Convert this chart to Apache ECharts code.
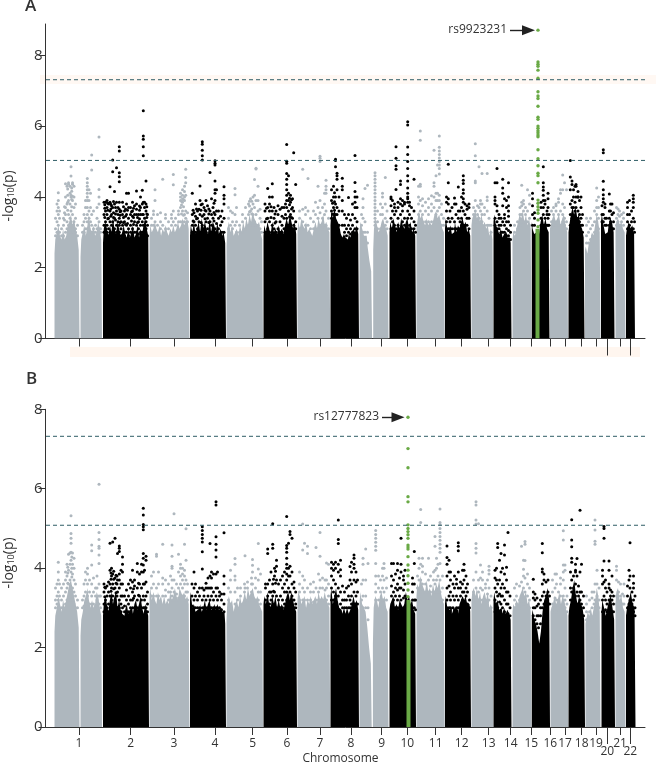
<!DOCTYPE html>
<html><head><meta charset="utf-8">
<style>html,body{margin:0;padding:0;background:#fff}#c{width:656px;height:764px}</style>
<script src="https://cdn.jsdelivr.net/npm/echarts@6/dist/echarts.min.js"></script></head>
<body><div id="c"></div>
<script>
const chromosomes=['1','2','3','4','5','6','7','8','9','10','11','12','13','14','15','16','17','18','19','20','21','22'];
const tickPositions=[33.5,85.2,128.5,169.5,207.2,241.5,274.5,305.5,336.2,361.8,390.2,416.2,443.2,465.2,485.8,504.8,519.5,536.2,550.5,561.8,574.5,584.8];
const chromEnds=[56.9,103.7,144.2,180.7,217.7,251.7,284.9,313.7,343.4,370.7,399.4,425.7,447.9,466.4,486.2,504.2,522.7,539.2,555.2,569.5,580.2,590];
const yTicks=[0,2,4,6,8];
const thresholdsA=[7.31,5.03];
const thresholdsB=[7.32,5.08];

// solid body of each chromosome, column heights: [chrom index, first x, last x, heights...]
const ridgeA=[
[0,9,34,2.4,2.8,3,3.2,2.9,2.8,3.1,2.8,2.9,3.2,3.3,3.5,3.2,3.4,3.1,2.9,2.5],
[0,35,56.5,2.3,2.8,3,3.2,2.9,3.2,3.5,3.1,3,3.2,2.9,3,3.3,3.1,2.8],
[1,57.5,103.5,2.7,3.1,3.3,3.1,2.9,3.2,3,3.4,3.1,2.95,3.3,3.1,2.85,3,3.2,2.95,2.85,3.1,2.85,3,3.2,2.85,2.95,3.2,2.85,3.1,2.95,3.2,3.4,3.1,2.9],
[2,104,144,2.9,3.2,3,3.1,3.3,3.1,3,3.2,2.9,3.1,3,3.2,3,2.9,3.1,3,3.2,3,3.1,3.3,3.1,3.2,3.4,3.2,3.3,3.4,3.1],
[3,144.5,180.5,2.9,3.2,3,3.3,2.95,3.1,3.3,3,3.4,3.1,3.3,3.1,2.95,3.4,3,3.3,3.2,3,3.3,2.95,3.1,2.9,3,2.7],
[4,181,217.5,2.6,3.1,3.3,3,3.2,2.9,3,3.1,2.9,3.2,3,3.3,3.1,3.4,3.2,3.5,3.3,3.6,3.4,3.3,3.2,3.3,3,2.8],
[5,218,251.5,2.9,3.2,3,3.3,3.1,2.95,3.3,3,3.1,2.95,3.2,3,3.1,2.95,3.2,3.4,3.2,3.5,3.3,3.1,3.3,2.95],
[6,252,284.7,3,3.3,3.1,3.4,3.2,3.1,3.3,3,3.1,3,2.9,3.1,3.3,3.1,3.4,3.2,3.3,3.5,3.2,3.3,3.1,3],
[7,285,313.5,3.2,3.6,3.4,3.7,3.4,3.3,3.2,2.95,2.85,2.95,2.85,2.8,2.95,2.85,3,3.1,3,3.2,2.95],
[8,314,326.6,3,3.3,3.1,2.9,2.9,2.6,2.2,1.9],
[8,327.7,343,2.5,3.1,3.4,3.2,3,3.1,3.3,3.4,3.2,3.1,2.9],
[9,344,370.5,3,3.3,3.1,3.4,3.2,3,3.3,3.1,3.4,3.2,3.1,3.3,3.4,3.1,3.3,3,3.1,2.9],
[10,371,399.2,3.1,3.3,3.6,3.4,3.5,3.3,3.2,3.4,3.2,3.3,3.2,3.3,3.5,3.6,3.4,3.5,3.3,3.1,3],
[11,399.5,425.5,3.1,3.4,3.1,3,3.2,2.95,3,3.3,3,3.2,3.1,3.3,3.4,3.2,3.3,3,3.1,2.9],
[12,426,447.7,3.2,3.4,3.5,3.6,3.4,3.5,3.3,3.5,3.2,3.3,3.1,3.2,2.9,3.1,2.8],
[13,448,466,3.3,3.5,3.2,3.1,2.95,3.1,2.85,2.95,3,2.85,2.85,2.7],
[14,467,486,2.8,3,2.9,3.1,3.3,3.5,3.4,3.6,3.3,3.5,3.2,3.4,3.1],
[15,486.3,504,3.3,3.1,2.95,3,3.1,2.95,3.3,3.5,3.2,3.4,3.1,3],
[16,504.5,522.5,3.1,3.2,3.4,3.5,3.3,3.4,3.5,3.2,3.4,3.5,3.2,3],
[17,523,539,3,3.2,3.5,3.7,3.5,3.7,3.4,3.5,3.2,3.1,2.85],
[18,539.5,555,2.5,2.6,2.4,2.7,2.8,3,2.9,3.2,3.5,3.3,3],
[19,555.5,569,3.3,3.5,3.2,2.95,3,3.2,3.4,3.3,3],
[20,570,580,3.1,3.3,3.4,3.2,3.3,3.1,3],
[21,580.5,589.5,2.9,3.1,3.3,3.1,3.2,2.95]
];
const ridgeB=[
[0,9,34,2.4,2.8,3,3.3,3.1,2.9,3.2,3,3.2,3.4,3.6,3.7,3.5,3.3,3.1,2.9,2.5],
[0,35,56.5,2.3,2.7,2.9,3.2,3.3,3.5,3.2,3,3.2,3,3.1,3.4,3.3,3,2.8],
[1,57.5,103.5,2.8,3.1,3.3,3.1,2.9,3.2,3.4,3.1,3.3,3.4,3,3.2,2.95,2.85,2.8,2.95,3.1,2.85,2.95,3,2.85,3.1,3.2,2.95,3.1,3.3,3,2.85,3.1,2.95,2.8],
[2,104,144,3.3,3.5,3.2,3.4,3.2,3.1,3.4,3.2,3.3,3.1,3.3,3.1,3.2,3.1,3.4,3.2,3.3,3.5,3.3,3.2,3.5,3.4,3.3,3.4,3.2,3.3,3.1],
[3,144.5,180.5,3.2,3.4,3,3.1,2.9,2.95,3,3.1,2.9,3,3.2,2.95,3.1,3.2,2.95,3,3.1,2.95,3.1,2.95,3,2.9,2.9,2.6],
[4,181,217.5,2.7,3.1,3.3,3.1,3.2,2.9,3.1,3.2,3,3.3,3.1,3.2,3.4,3.2,3.5,3.3,3.4,3.5,3.3,3.2,3.3,3.1,3,2.9],
[5,218,251.5,3.1,3.3,3.1,3.4,3.1,3,3.3,3.1,3.3,3,3.2,3,3.1,2.95,3.1,3.3,3.4,3.2,3.4,3.2,3,2.9],
[6,252,284.7,3.2,3.4,3.3,3.1,3.2,3.3,3,3.2,3.1,3.3,3.1,3.2,3.3,3.1,3.4,3.2,3.3,3.2,3.4,3.2,3.1,3],
[7,285,313.5,3.3,3.5,3.1,3.3,3.5,3.2,3,2.95,2.85,3,2.85,3,2.85,2.95,3.1,3.3,3.1,3.2,2.95],
[8,314,326.2,3.1,3.4,3.1,3,2.9,2.5,2,1.6],
[8,327.4,343,2.1,3,3.3,3.2,3,3.3,3.4,3.2,3.3,3,2.9],
[9,344,370.5,2.95,3.1,3.2,3.3,3,3.1,2.95,3.2,3.1,3,3.1,3.4,3.2,3.3,3.1,3.2,2.95,2.85],
[10,371,399.2,3.3,3.6,3.5,3.8,3.6,3.5,3.4,3.7,3.4,3.5,3.3,3.6,3.4,3.6,3.5,3.7,3.4,3.2,3.1],
[11,399.5,425.5,3.1,3.3,3,2.95,3,2.85,2.95,3,2.95,2.85,3.1,3.2,3.3,3.2,3.3,3.1,3.1,2.9],
[12,426,447.7,3.2,3.4,3.5,3.3,3.5,3.2,3.4,3.1,3.3,3.4,3.2,3.4,3,3.1,2.9],
[13,448,466,3.2,3.4,3.1,3.2,2.95,3,2.85,3,2.85,2.95,2.85,2.7],
[14,467,486,2.9,3.1,3,3.2,3.1,3.3,3.4,3.5,3.3,3.4,3.1,3.2,2.9],
[15,486.3,504.5,2.8,2.95,2.7,2.6,2.4,2.1,2.4,2.9,3.2,3.3,3.5,3.2],
[16,505,522.7,2.9,3,3.1,3.3,3.1,3.2,3.4,3.1,3.3,3.2,3,2.8],
[17,523,539.5,2.8,3,3.2,3.5,3.7,3.3,3.1,3.3,3.1,3,2.7],
[18,540,555,2.6,2.7,2.9,2.8,3,2.8,3,3.2,3.5,3.3,2.9],
[19,556,569.5,2.9,3.2,3,2.8,3,3.2,3.3,3,2.7],
[20,570,580,3.1,3.4,3.5,3.2,3.3,3,2.9],
[21,580.5,590,2.8,3,3.2,3.4,3.1,3]
];
const greenBarA=[[490,3.1],[494,3.1]];
const greenBarB=[[361,3.2],[365,3.2]];
const greenXA=492.5, greenXB=362.5;
const greenA=[8.71,7.81,7.75,7.69,7.58,7.35,6.97,6.85,6.78,6.56,6.25,6.19,6,5.94,5.87,5.81,5.75,5.7,5.33,5.08,4.88,4.67,4.6,4.4,3.91,3.82,3.72,3.63,3.54,3.35,3.16];
const greenB=[7.8,7.01,6.53,5.8,5.67,5.09,5,4.92,4.84,4.75,4.58,4.53,4.48,4.29,4.08,3.95,3.81,3.62,3.45,3.28];

// columns of separate points: [x, y, y, ...]
const cloudA=[
[10,2.9,3.1,3.4],[11.5,3,3.3,3.6,3.8],[12.8,3.2,3.5,3.7,3.9,4.12],[14,3,3.4,3.6],[16,2.9,3.1],[18,2.9,3.2,3.4],[19,3.35,3.55,3.72],[20,3,3.5,3.7,4,4.37],[21.5,3.1,3.3,3.8,4.3],[22.2,3.62,3.85,4.05,4.22],[23,3.2,3.5,3.9,4.36,4.4],[24.5,3.1,3.4,3.8,4.1,4.3],[25.5,3,3.3,3.6,4,4.05,4.59,4.85],[26.2,3.72,3.93,4.16,4.25],[27,3,3.2,3.5,3.9,4.02,4.36,4.4],[28.5,3,3.3,3.7,4,4.3],[30,3,3.1,3.4,3.8],[32,2.9,3.2],[37,3,3.2],[38.5,3,3.3,3.5],[40,3.1,3.4,3.7,3.9],[41.8,3.1,3.3,3.5,3.7,3.9,4,4.1,4.2,4.3,4.4,4.52],[43.5,3.1,3.4,3.6,3.9,4.2],[45,3,3.3,3.7,4.1],[46.2,3,3.2,3.5,4.76,5.18],[48,3,3.1,3.6],[50,3,3.2],[51.5,3.1,3.4,3.7],[53.5,3.1,3.3,3.8,4,4.21,5.69],[55,3,3.1],
[58.5,3,3.2,3.5,3.85],[59.3,3.42,3.68,3.78],[60,2.9,3.1,3.3,3.6,3.85],[61.5,3,3.2,3.5,3.7,3.9],[62.3,3.38,3.62,3.82],[63,2.9,3.1,3.4,3.8],[64.5,3,3.3,3.6,3.85,4.29],[65.3,3.45,3.66,3.79],[66,2.9,3.2,3.5,3.75],[67.2,3,3.3,3.7,4.71,5.04],[68,3.42,3.55,3.87],[69,2.9,3.1,3.4,3.8,4.15],[70,3.35,3.52,3.7],[71,3,3.2,3.6,3.85,4.82],[72.5,2.9,3.3,3.5,3.7],[73.8,3,3.2,3.4,3.65,3.85,4.43,4.57,4.68,5.3,5.42],[74.6,3.28,3.48,3.58],[75.5,2.9,3.1,3.3,3.6],[77,2.9,3.2,3.5,3.85],[78,3.28,3.42,3.72],[79,2.9,3,3.3,3.6],[80,3.22,3.45,3.66],[81,3,3.2,3.5,3.8,4.1],[82,3.25,3.62],[83,2.9,3.1,3.4,3.7,4.1],[85,3,3.2,3.5,3.7],[86,3.32,3.58],[87,2.9,3.1,3.45,3.6,3.85],[88,3.22,3.42,3.68],[89,3,3.3,3.5,3.75],[91,3,3.2,3.5,3.65,3.8,4.17],[92,3.28,3.42],[93,2.95,3.1,3.3,3.5],[94,3.38,3.62,3.74],[95,3,3.2,3.5,3.7,4],[96.8,3,3.3,3.5,3.8,4.19],[97.8,3,3.2,3.5,3.85,5.16,5.42,5.63,5.72,6.43],[99,3,3.1,3.4,3.7,3.85],[100.5,3.1,3.3,3.6,3.8,4.45],[101.3,3.42,3.52,3.72],[102,2.9,3.2,3.5],
[106,3.2,3.4],[108,3.2,3.5,3.6],[109.5,3.3,3.9,4.2],[112,3.2,3.5],[115,3.1,3.3,3.55],[117.2,3.2,4.5],[120,3.1,3.4,3.5],[123,3.1,3.3],[126,3.2,3.4,3.5],[127.8,3.3,3.6,4.34,4.63],[130,3.2,3.4],[133,3.3,3.5,3.6],[135,3.3,3.7,3.9,4,4.1],[136,3.52,3.77,3.88],[137,3.3,3.6,3.85,3.95,4.05,4.2],[138,3.48,3.72,3.92],[139,3.3,3.5,3.9,4,4.15,4.3],[140.2,3.4,3.6,4.05,4.4,4.55,4.78],[142,3.3,3.55],
[146.8,3,3.2,3.5,4.1],[147.6,3.32,3.62],[148.5,3,3.3,3.55],[150,3,3.2,3.45,3.8],[151,3.38,3.66],[152,3.1,3.4,3.6],[153.5,3,3.3,3.65],[154.5,3,3.5,3.9,4.31],[155.5,3.28,3.62,3.78],[156.8,3,3.2,3.45,3.8,5.04,5.16,5.32,5.49,5.56],[158.5,3.1,3.5,3.7],[159.5,3.38,3.62],[160.5,3,3.3,3.6,3.9],[162,3.1,3.4,3.75],[163.3,3.28,3.52,3.66],[164.5,3,3.3,3.6,4.69],[166,3,3.2,3.5,3.95],[167.5,3,3.4,3.7],[168.5,3.32,3.56,3.82],[169.5,3.1,3.5,3.9,4.1,4.2,4.45,4.9,4.95,5.02],[171,3,3.25,3.6,4.2],[173,3.1,3.4,3.6],[175,2.95,3.2,3.45],[176.5,3,3.3,3.6],[178.5,3,3.4,3.8,3.95,4.05,4.29],
[183,3.1,3.4,3.7],[185,3.2,3.6],[187,3.1,3.3,3.55],[189.5,3.2,3.5,4.06,4.24],[191,3,3.3,3.7],[194,3,3.2],[197,3,3.3,3.5],[200,3.1,3.4,3.7],[203,3.2,3.5,3.8],[204,3.58,3.74,3.88],[205,3.2,3.6,3.95],[206.2,3.52,3.66,3.88],[207.5,3.2,3.5,3.8,4],[209,3.3,3.7,4.05,4.49],[210.5,3.2,3.5,3.9,4.79,4.81],[212.5,3.2,3.6,3.9,4.3],[214.5,3.1,3.4,3.65],[216,3,3.3],
[219.5,3,3.3,3.6,3.8],[221,3.38,3.68],[222.2,3.1,3.4,3.7,4.24],[224,3,3.3,3.6,3.8,4],[225.5,3.42,3.72],[226.8,3,3.2,3.6,4,4.37],[228.5,3.1,3.4,3.7],[229.5,3.26,3.52],[230.5,3,3.3,3.6],[232.5,3.1,3.5,3.75],[234.5,3,3.3,3.65],[236.5,3,3.2,3.45,3.7],[238.5,3.1,3.4,3.7],[240,3.1,3.5,3.8],[241.2,3.2,3.4,3.7,3.9,4.05,4.2,4.35,4.5,4.66,4.95,5.01,5.48],[243,3.2,3.6,3.9,4.1,4.6],[244,3.44,3.78,3.96],[245,3.2,3.5,3.85,4.05],[246,3.42,3.66,3.92],[247,3.1,3.4,3.7,3.95],[248.2,3.2,3.6,5.25],[250.2,3.1,3.3,4.35],
[254,3.1,3.4,3.6],[257.2,3.1,3.3,3.65,4.78],[260,3.2,3.5,3.7],[262.5,3.2,3.6,4.52],[265,3.1,3.4],[268,3.1,3.3,3.6],[270,3.1,3.5,3.85],[272.5,3.1,3.4,3.7,4.3],[274.5,3.2,3.55,3.9,5,5.09,5.15],[277,3.1,3.4,3.7],[279,3.2,3.5,3.8,4.1],[280.5,3.2,3.6,4.1,4.2,4.3,4.47],[283,3.1,3.4],
[286,3.4,3.6,3.9,4.2],[287,3.52,3.82],[288,3.5,3.7,4,4.3],[289,3.62,3.86,4.12],[290,3.5,3.8,4,4.85,5.03,5.06],[291.5,3.5,3.7,4.2,4.5,4.6,4.67],[293.5,3.2,3.6,4],[296.8,3.2,3.6,3.9,4.2,4.3,4.53],[299,3,3.2,3.5],[301,2.9,3.1,3.4],[303,3,3.2,3.5,3.98],[305,2.95,3.1,3.35],[307,3,3.2,3.5,3.8],[309.5,3.1,3.4,3.7,3.85,4,4.15,4.41,5.17],[311.5,3.1,3.3,3.7,4],
[316,3,3.2,3.5],[317.5,3,3.4,3.7,3.95],[319.5,3,3.3,4.24],[322,2.7,3,4.33],[329.5,3.2,3.3,3.4,3.5,3.6,3.7,3.8,3.9,4,4.1,4.2,4.3,4.4,4.5,4.6,4.68],[332,3.1,3.3,3.6],[335,3.1,3.5,3.8],[337,3.2,3.5,3.7,4,4.1],[339.8,3.2,3.4,3.8,4.55],[341.5,3.1,3.3,3.6],
[345.5,3.1,3.4,3.75,3.95,4],[347,3.1,3.3,3.6,3.9],[349,3.2,3.5,3.7,3.8],[350.5,3.1,3.6,4.21,4.78,4.88,5.09,5.42],[352.5,3.2,3.4,3.7,3.85],[355,3.1,3.5,3.8,3.95,4.35,4.45],[357,3.1,3.3,3.6,3.75,3.9],[359,3.2,3.4,3.8,3.85],[362.2,3.1,3.4,3.6,3.85,3.95,4,4.1,4.25,4.45,4.6,4.8,5,5.2,5.41,6.03,6.12],[364,3.2,3.5,3.75,3.85],[366,3.1,3.4,3.7],[368.5,3.1,3.3,3.6,4.5],[370,3,3.2],
[373,3.2,3.5,3.8,4,4.3],[374.8,3.3,3.6,3.9,4.3,4.36,5.6,5.86],[377,3.3,3.5,3.75,3.95],[380,3.3,3.6,3.85],[383,3.3,3.5,3.7,3.95],[386,3.3,3.6,3.8,4.03],[388.5,3.3,3.7,4,4.3,4.4,5.32],[390.5,3.3,3.5,3.9,4.1,4.6],[392,3.3,3.6,3.9,4.1,4.9],[393.8,3.3,3.7,3.9,4.05,4.65,4.8,4.9,5,5.1,5.2,5.3,5.4,5.72],[396,3.2,3.5,3.8],[398,3.2,3.4],
[401,3.1,3.3,3.6,3.85,4],[402.8,3.1,3.4,3.8,3.95,4.4,4.92],[404.5,3.1,3.3,3.6],[406.5,3.1,3.4,3.7],[409,3.1,3.3,3.8,3.97],[410.5,3.1,3.5,3.8],[412.8,3.1,3.4,3.6,4.28],[414.5,3.1,3.3,3.6],[416,3.2,3.4,3.7,4],[417.8,3.2,3.6,3.85,3.95,4.1,4.2,4.38,4.47,4.6],[419.5,3.2,3.5,3.8],[421.5,3.2,3.4,3.65,3.75],[423.5,3.1,3.4,3.7,3.8],
[428,3.3,3.5,3.7],[429.8,3.3,3.6,3.9,4.4,4.45,5.16,5.5],[432,3.3,3.5,3.75],[433.5,3.4,3.7,4.85],[435,3.3,3.6,3.8,3.9],[436.5,3.3,3.5,3.8,4.66],[439,3.2,3.5,3.7],[441.7,3.2,3.6,3.9,4,4.66],[443.5,3.2,3.4],[445.5,3,3.2],
[449.5,3.2,3.4,3.8,3.9,4,4.4],[451.5,3.1,3.3,3.6,3.75,4.4,4.8],[453.5,3.1,3.2,3.4,3.5],[455.5,3,3.2,3.4],[457.2,3,3.3,3.75,4.1,4.25,4.5],[459,3,3.2,3.4,3.5,3.95],[461,2.9,3.1,3.3,3.7,3.9],[463,2.9,3.05,3.3,3.45,3.6,3.75,4.0,4.4],[465,2.8,3,3.2],
[469,3,3.2],[472,3.1,3.3],[474.5,3.2,3.5,3.7],[476.2,3.3,3.5,3.75,3.85,4.33],[478,3.3,3.6,3.8,3.9],[480,3.3,3.5,3.7],[482,3.3,3.6,4.2],[484,3.2,3.4,3.8,4.05],
[487,3.2,3.5,3.75,3.95,4.1],[489,3.2,3.4,3.55],[495.5,3.2,3.4,3.7,3.85],[497.8,3.2,3.5,3.7,3.9,4.05,4.19,4.28,4.4,4.85],[499.5,3.2,3.4,3.8,3.9],[501.5,3.2,3.5,3.6],[502.5,3.2,3.4,3.7,3.95,4.1],[503.5,3.2,3.5],
[506,3.1,3.3,3.6],[508,3.2,3.5,3.7],[510.5,3.2,3.3,3.6,3.75,3.8],[513,3.2,3.5,3.85,3.95],[515,3.2,3.6,4.1,4.2],[517.2,3.3,3.5,3.8,4.2,4.62],[519,3.2,3.4,3.7,4.4],[521,3.1,3.3,4.2],
[524.8,3.2,3.5,3.8,4.2,4.56,5.03],[526.5,3.2,3.4,3.7,3.9,4.35,4.45],[528,3.3,3.7,4,4.2],[529.5,3.4,3.6,3.85,4.3],[530.5,3.4,3.7,4,4.35,4.3],[532.5,3.4,3.6,4,4.15,4],[534,3.3,3.5,3.9],[535.5,3.2,3.4,3.7,4],[537,3,3.2,3.5],
[541,2.7,2.9,3.2,3.4],[543,2.7,3,3.3],[545,2.8,3.1,3.4],[547,2.9,3.2],[549,3,3.3,3.6],[551.2,3,3.3,3.5,3.7,3.9,4.25],[553,3.1,3.4,3.7,4],
[556.5,3.3,3.5,3.75],[557.8,3.3,3.5,3.85,3.95,4.06,4.2,4.44,5.25,5.33],[559.5,3.2,3.4,3.7,3.8],[561,3.2,3.4],[563.8,3.2,3.4,3.6,4.08],[565,3.2,3.3,3.6,3.8],[566.5,3.1,3.5,3.8],[568,3.1,3.3,3.55],
[571,3.2,3.4,3.7],[572.5,3.3,3.5,3.66],[574,3.2,3.45,3.6],[576,3.3,3.5],[578,3.2,3.4,3.55],
[582,3.1,3.3,3.5,3.85,3.7],[584,3.2,3.5,3.9],[586,3.1,3.3,3.6],[587.8,3.1,3.4,3.7,3.85,3.95,4.05],[589,3,3.3]
];
const cloudB=[
[10,3,3.2,3.5],[11.5,3.1,3.3,3.6],[12.8,3.2,3.4,3.7,3.9,4.15],[14,3,3.3,3.6],[16,3,3.2,3.5],[18,3,3.3,3.6],[20,3.1,3.4,3.7,3.9],[21.5,3.2,3.5,3.8,4.1],[22.3,3.62,3.88,4.02],[23,3.2,3.6,3.95,4.35],[24.5,3.3,3.7,4.1,4.38],[25.5,3.2,3.5,3.9,4.2,4.4,4.63,4.75,4.87,5.32],[26.3,3.78,4,4.28],[27,3.2,3.5,3.85,4.1,4.38],[28.5,3.1,3.4,3.7,4,4.25],[30,3,3.3,3.6],[32,3,3.2],[37,3,3.2],[38.5,3.05,3.3,3.6],[40,3.1,3.4,3.7,3.9],[42,3.1,3.3,3.6,3.85,4],[44,3.1,3.4,3.7],[46.2,3.1,3.3,3.6,4.08,4.44,4.58],[48,3.1,3.4,3.75],[50,3.05,3.3,3.5],[51.5,3.2,3.5,3.8],[53.5,3.1,3.3,3.6,4.12,4.33,4.5,4.55,4.72,4.9,6.11],[55,3,3.3],
[58.5,2.9,3.1,3.4,3.6],[59.3,3.28,3.52],[60,2.9,3.2,3.5],[61.5,3,3.3,3.55],[63,2.9,3.1,3.4,3.65],[64.5,3,3.3,3.6,3.95,4.63],[65.5,3.42,3.72,3.88],[66,2.95,3.2,3.5,3.8,4],[67.2,3,3.3,3.6,3.85,4.66],[68.2,3.48,3.72,3.92],[69.5,3,3.2,3.5,3.75,4.75],[70.5,3.38,3.62,3.82],[71.5,3,3.3,3.6,3.8],[73.8,3,3.2,3.5,3.7,3.85,4.42,4.5,4.56],[72,3,3.4,3.7,4.37],[75.5,2.9,3.1,3.3,3.6,3.95],[77,3,3.3,3.6,4.1,4.28,3.9],[79,2.9,3.05,3.3],[81,2.9,3.2,3.45],[83,2.9,3.1,3.3,3.6],[85,3,3.2,3.5,3.7],[87,3,3.2,3.4,3.65,3.95],[88,3.24,3.48],[89,3,3.3,3.55,3.7],[91.8,3,3.2,3.5,3.9,4.12],[93,3.32,3.62],[94,3,3.3,3.6,3.85],[96,3,3.2,3.5,3.9,4.1],[97.8,3,3.3,3.6,3.9,4.08,4.25,4.37,4.97,5.04,5.1,5.34,5.51],[99,3,3.2,3.6,3.95],[100.5,3,3.3,3.65,4.2,4.3],[102,2.9,3.1,3.4],
[106,3.3,3.5,3.8],[108,3.3,3.6,3.9],[111,3.3,3.5,4.3,4.35],[113,3.3,3.6,3.9],[117.2,3.3,3.6,3.75,4.6],[120,3.3,3.45,3.7],[123,3.2,3.4,3.6],[125,3.2,3.4,3.8],[126.5,3.3,3.5,3.7,4,4.05,4.3,4.58],[128.5,3.2,3.4,3.7,5.37],[131,3.2,3.35,3.6],[133,3.25,3.5,3.9,4.35],[135,3.3,3.6,3.8,4.1,4],[137,3.3,3.5,3.7,3.85,4],[139,3.3,3.6,3.8,3.95,4.6],[140.5,3.2,3.4,3.7,4.2,4.99],[142,3.2,3.4,3.6],
[146.5,3.05,3.3,3.6],[148.5,3,3.2,3.5,3.9],[150,3,3.3,3.6],[152,3,3.2,3.4],[154,3,3.3,3.5],[156.8,3,3.2,3.5,3.98,4.41,4.66,4.75,4.85,4.95,5.04],[158.5,3,3.3,3.45],[160.5,3,3.2,3.5,3.62],[162.5,3,3.3,3.5,3.75],[164.5,3,3.2,3.5,3.8,4.62],[166,3,3.3,3.5,3.75,3.9],[168,3,3.2,3.4,3.85],[170.5,3,3.3,3.5,3.85,4.28,4.46,4.6,4.79,5.59,5.67],[172,3,3.2,3.5,3.9],[174,3,3.3,3.4],[176,2.95,3.2,3.35],[178.5,2.9,3.1,3.35,3.6,3.8,4.89],
[183,3,3.2,3.5],[185,3.1,3.4,3.7,3.95],[189.5,3.1,3.4,3.7,3.8,4.1,4.24],[192,3,3.2,3.5],[195,3.1,3.3,3.5],[199,3.1,3.4,3.6],[202,3.2,3.5,3.65],[199.5,3.2,3.5,4.31],[206,3.2,3.4,3.6,3.75],[207,3.3,3.6,3.9,4.07,4.22],[210,3.2,3.5,3.75],[212.8,3.2,3.4,3.7,3.98,4.62],[215,3.1,3.4,3.85],
[220,3,3.2,3.5,3.6],[222.2,3,3.3,3.6,4.37,4.48],[224,3.1,3.4,3.7],[225.5,3,3.2,3.4,3.9],[227.2,3,3.3,3.6,4.5,4.6,5.12],[228,3.42,3.72],[229,3.1,3.4,3.8,4],[230,3.62,3.92],[231,3,3.3,3.7,4.05,4.2],[233,3,3.2,3.6],[235,3,3.3,3.7],[237,3,3.2,3.5,3.8],[239,3.1,3.4,3.6,3.9],[241.2,3.2,3.4,3.7,3.85,4,4.1,4.25,4.4,4.5,4.57,5.3],[243,3.1,3.5,3.8,4,4.63],[244.5,3.1,3.4,3.8,4.05,4.85,4.92],[246.5,3.1,3.3,3.6,3.9,4.75],[248.5,3,3.2,3.5,3.65],[250.2,3,3.1,3.4],
[254,3.2,3.4,3.6,3.9],[257.2,3.2,3.5,3.8,4.46,5.11],[259,3.2,3.4,3.7,4.63],[262,3.2,3.5,4.37,4.55],[265,3.2,3.4,3.6],[268,3.15,3.4,3.65],[270.5,3.2,3.5,4.52],[273,3.2,3.4,3.85],[274.5,3.2,3.5,3.7,4.3,4.9],[277,3.2,3.5,3.75],[279.5,3.2,3.45,3.7],[281,3.2,3.5,3.7,4.13],[283,3.1,3.3,3.6,4.1],
[286,3.2,3.5,3.8,4,4.15],[288,3.2,3.4,3.7,3.95,4.1],[290,3.3,3.6,4,4.15],[292.8,3.3,3.5,3.9,4.1,4.62,4.72,5.21],[295,3.1,3.4,3.8,4.2,3.96],[297,3,3.2,3.55],[299,3,3.2,3.4],[301,3,3.2,3.5],[303,3,3.3,3.55],[304.5,3,3.2,3.7,4.04],[306,3.1,3.3,3.6,3.9,4.15],[308.5,3.1,3.4,3.7,4,4.1,4.25,4.33],[310.5,3.1,3.3,3.65,3.9],[312,3.1,3.4,3.7],
[316,3,3.2,3.6],[317.5,3,3.3,3.7,4.25,4.1],[320.2,3,3.3,3.7,4.48],[322.5,2.7,3,4.12],[330.2,3.2,3.4,3.6,3.8,4.12,4.45,4.55,4.65,4.75,4.85,4.95],[333,3.2,3.5,3.8],[335,3.2,3.4,3.7],[337,3.2,3.5,3.8,4],[338.5,3.2,3.4,3.7,4.12,4],[341,3.2,3.5,3.75],
[346,3,3.3,3.55,3.8,4.12],[348,3,3.2,3.4,3.7,4.12],[350,3,3.3,3.5,3.85],[352,3,3.2,3.45,3.6,3.95,4.12],[354,3,3.3,3.5,3.75],[355.5,3,3.2,3.5,3.9,4.1,4.75],[358,3,3.25,3.45,3.7,3.8],[359.5,3,3.3,3.6,3.95],[367,3,3.2,3.4,3.6,3.75],[368.8,3,3.2,3.6,4.12,4.42],[370,2.95,3.2],
[372,3.2,3.5,3.8],[373.5,3.3,3.7,4,4.25],[375.2,3.4,3.7,4.1,5.15,5.48],[377,3.4,3.6,3.9,4.05,4.25],[380,3.4,3.6,3.85],[383,3.4,3.7,4.25],[385,3.4,3.55,3.8],[388,3.4,3.7,3.9],[389.5,3.4,3.6,3.95,4.8,4.55],[391,3.4,3.7,4,4.25],[392.5,3.4,3.8,4.1],[394.5,3.4,3.7,4.12,4.4,4.5,4.6,4.7,4.8,4.9,5,5.1,5.15,5.49],[397,3.2,3.5,3.8],
[401.5,3,3.2,3.5,3.8,4.1,4.27,4.56],[403.5,3,3.3,3.55,3.9,4.2],[405,3,3.2,3.4,3.7,3.9],[407.5,3,3.3,3.6],[409,2.95,3.2,3.5,3.8],[411,3,3.3,3.6,3.72],[412.8,3,3.2,3.5,3.9,4.44,4.55,4.64],[415,3,3.3,3.5,3.65],[417,3,3.2,3.4,3.6,3.95],[418.5,3.1,3.4,3.7,3.95,4.1],[420.5,3.1,3.3,3.5,3.8],[422,3.1,3.4,3.6],[424,3,3.2],
[428,3.2,3.4,3.7],[430.5,3.2,3.5,3.9,4.38,4.5,4.62,5.11,5.21,5.59,5.67],[433,3.2,3.4,3.7,5.12],[435,3.2,3.5,3.75,4.08],[437,3.2,3.45,3.7,3.9],[440,3.2,3.5,3.6],[442,3.15,3.35,3.7],[443.5,3.2,3.5,3.85,3.95,4.05],[445.5,3,3.3],
[449.5,2.9,3.2,3.5,3.75,3.95],[451,2.9,3.1,3.4,3.7,4],[452.2,3,3.3,3.6,4.52,4.62],[454,2.9,3.15,3.35,3.7,4.2],[455.5,2.85,3.1,3.3,3.5,3.9,4.37],[457,2.8,3,3.3,3.6,4],[459,2.9,3.2,3.5,3.85,4.33,4.58],[461,2.8,3.1,3.4,3.7,4.02],[462.5,2.85,3.1,3.4,4.9],[464.5,2.8,3,3.3],
[469,3,3.2,3.5],[471,3.1,3.3,3.6],[474,3,3.2,3.55],[476,3.1,3.3,3.65,4.55],[478,3.1,3.5,3.8,3.97,4.2],[479.5,3.1,3.4,3.75,4.19,4.6,4.67],[482,3.05,3.3,3.6,3.85],[484,3,3.2,3.5],
[487.8,2.8,3,3.25,3.4,3.72],[489.5,2.7,3,3.2,3.35],[491.5,2.6,2.8,3.05,3.25],[493,2.5,2.8,3.1],[495,2.6,2.8,3,3.2],[496.8,3,3.3,3.6,3.9,3.98,4.39,4.62],[498.5,3.1,3.4,3.7,3.85],[500.5,3.1,3.3,3.65],[502.5,3.1,3.4,3.7],[504,3.1,3.3],
[507,2.9,3.1,3.4,3.7],[509.5,3,3.25,3.5,3.85],[511,2.9,3.2,3.6,3.85],[513,3,3.2,3.4],[515,3.05,3.3,3.6,3.75],[517.8,3,3.3,3.7,3.9,4.08,4.71,4.94],[519.5,3,3.2,3.5,3.95,4.08],[521.5,2.9,3.1,3.3],
[525,2.9,3.2,3.5,3.9],[526.2,3,3.4,3.7,4.15,4.25,4.54,4.71,5.22],[528,3,3.3,3.5,3.8],[530,3.3,3.6,3.9,3.95,4.1],[531.5,3.1,3.4,3.8,4.24],[533,3,3.3,3.55],[534.5,2.9,3.2,3.4,3.9,5.46],[536,2.9,3.1,3.4,4.1],[538,2.8,3,3.3],
[541,2.7,2.9,3.1,3.3],[544,2.7,2.9,3.2],[546.5,2.7,3,3.25,3.4],[548.5,2.8,3.1,3.4],[549.5,3,3.2,3.6,4.6,4.68,4.96,5.21],[551.5,3,3.3,3.6,3.95],[553.5,3,3.2,3.5],
[557,2.9,3.2,3.6,3.8,3.95],[558.5,2.9,3.3,3.65,4.18,4.75,5,5.05],[560,2.95,3.2,3.5,3.7],[561.5,2.9,3.1,3.4],[563.5,2.95,3.2,3.5,3.6,3.95,4.18],[565,3,3.3,3.45],[566.5,2.9,3.2,3.4,3.8],[568,2.9,3.1,3.3],
[571,3.1,3.3,3.7,4.05,3.95],[573,3.1,3.4,3.65],[575,3.1,3.3,3.6],[577,3.1,3.35],[578.5,3.1,3.3,3.6],
[582,2.8,3,3.3,3.55],[583.5,2.9,3.1,3.7,3.95],[584.5,2.9,3.2,3.5,3.8,4.64],[586.5,2.8,3.1,3.4],[588,2.9,3.2,3.5,3.62,3.8],[589.5,2.8,3,3.3]
];

const GRAY='#aeb7be',BLACK='#000000',GREEN='#6aaa46',DASH='#2f5d66',INK='#333333';
const colorOf=i=>i%2===1?BLACK:GRAY;
const chromOf=x=>{for(let i=0;i<chromEnds.length;i++)if(x<=chromEnds[i])return i;return 21;};

function panelSeries(ax,ridge,cloud,greenBar,greenX,green,thresholds,arrow){
  const s=[];
  const area=(pts,color,step)=>({type:'line',step:step?'middle':false,xAxisIndex:ax,yAxisIndex:ax,silent:true,symbol:'none',sampling:null,z:2,
    lineStyle:{width:0},itemStyle:{color},areaStyle:{color,opacity:1},
    data:[[pts[0][0],0],...pts,[pts[pts.length-1][0],0]]});
  ridge.forEach(r=>{
    const h=r.slice(3),x0=r[1],x1=r[2];
    s.push(area(h.map((v,i)=>[x0+(x1-x0)*i/(h.length-1),v]),colorOf(r[0]),true));
  });
  const pts=[[],[]];
  cloud.forEach(c=>{const k=chromOf(c[0])%2;c.slice(1).forEach(y=>pts[k].push([c[0],y]));});
  s.push({type:'scatter',xAxisIndex:ax,yAxisIndex:ax,silent:true,symbol:'circle',symbolSize:3,z:3,itemStyle:{color:GRAY,opacity:1},data:pts[0]});
  s.push({type:'scatter',xAxisIndex:ax,yAxisIndex:ax,silent:true,symbol:'circle',symbolSize:3,z:3,itemStyle:{color:BLACK,opacity:1},data:pts[1]});
  s.push(Object.assign(area(greenBar,GREEN,false),{z:4}));
  s.push({type:'scatter',xAxisIndex:ax,yAxisIndex:ax,silent:true,symbol:'circle',symbolSize:3.4,z:5,itemStyle:{color:GREEN,opacity:1},data:green.map(y=>[greenX,y])});
  thresholds.forEach(t=>s.push({type:'line',xAxisIndex:ax,yAxisIndex:ax,silent:true,symbol:'none',z:6,
    lineStyle:{color:DASH,width:1,type:[4,3]},data:[[0.5,t],[599.5,t]]}));
  s.push({type:'line',xAxisIndex:ax,yAxisIndex:ax,silent:true,symbol:'none',z:6,data:[],
    markLine:{silent:true,animation:false,symbol:['none','triangle'],symbolSize:[10,13],label:{show:false},
      lineStyle:{color:'#222',width:1.4,type:'solid'},
      data:[[{coord:[arrow[0],arrow[2]]},{coord:[arrow[1],arrow[2]]}]]}});
  return s;
}
const xA=idx=>({type:'value',gridIndex:idx,position:'bottom',min:0,max:599.5,splitLine:{show:false},
  axisLine:{show:true,onZero:false,lineStyle:{color:INK,width:1}}});
function xAxes(idx,labels){
  const short=tickPositions.filter((p,i)=>i!==19&&i!==21);
  const long=[tickPositions[19],tickPositions[21]];
  const lab=v=>chromosomes[tickPositions.indexOf(v)];
  return [
   Object.assign(xA(idx),{axisTick:{show:true,length:8,customValues:short,lineStyle:{color:INK}},
     axisLabel:{show:labels,customValues:short,margin:11,hideOverlap:false,formatter:lab,color:INK,fontFamily:'Open Sans',fontSize:12}}),
   Object.assign(xA(idx),{axisLine:{show:false},axisTick:{show:true,length:17,customValues:long,lineStyle:{color:INK}},
     axisLabel:{show:labels,customValues:long,margin:19,hideOverlap:false,formatter:lab,color:INK,fontFamily:'Open Sans',fontSize:12}})
  ];
}
const yA=(idx,max)=>({type:'value',gridIndex:idx,min:0,max,splitLine:{show:false},
  axisLine:{show:true,onZero:false,lineStyle:{color:INK,width:1}},
  axisTick:{show:true,length:7,customValues:yTicks,lineStyle:{color:INK}},
  axisLabel:{margin:3,customValues:yTicks,color:INK,fontFamily:'Open Sans',fontSize:15}});
const yName=(y)=>({type:'text',x:9,y,rotation:Math.PI/2,z:10,style:{text:'-log{s|10}(p)',align:'center',verticalAlign:'middle',
  fill:INK,font:'14px "Open Sans"',rich:{s:{fontSize:9,fontFamily:'Open Sans',fill:INK,verticalAlign:'bottom',padding:[5,0,0,0]}}}});
const txt=(x,y,text,size,weight,align)=>({type:'text',x,y,z:10,style:{text,fill:INK,align:align||'left',verticalAlign:'middle',font:`${weight||400} ${size}px "Open Sans"`}});

const chart=echarts.init(document.getElementById('c'),null,{renderer:'canvas'});
chart.setOption({
  animation:false,backgroundColor:'#fff',
  grid:[{left:45.5,top:24,width:599.5,height:314.5},{left:45.5,top:409.3,width:599.5,height:317.7}],
  xAxis:[...xAxes(0,false),...xAxes(1,true)],
  yAxis:[yA(0,8.884),yA(0,8.884),yA(1,8),yA(1,8)].map((a,i)=>i%2?Object.assign(a,{show:false}):a),
  series:[
    ...panelSeries(0,ridgeA,cloudA,greenBarA,greenXA,greenA,thresholdsA,[464.5,483,8.71]),
    ...panelSeries(2,ridgeB,cloudB,greenBarB,greenXB,greenB,thresholdsB,[336.5,352.5,7.8])
  ],
  graphic:[
    {type:'rect',z:-1,silent:true,shape:{x:70,y:347,width:570,height:10},style:{fill:'#fff6ef'}},
    {type:'rect',z:-1,silent:true,shape:{x:40,y:75,width:616,height:9},style:{fill:'#fff8f3'}},
    txt(25,6,'A',17,600),txt(26,379,'B',17,600),
    txt(507,30,'rs9923231',12,400,'right'),txt(379,417,'rs12777823',12,400,'right'),
    txt(340.5,759,'Chromosome',12,400,'center'),
    yName(196),yName(563)
  ]
});
</script></body></html>
